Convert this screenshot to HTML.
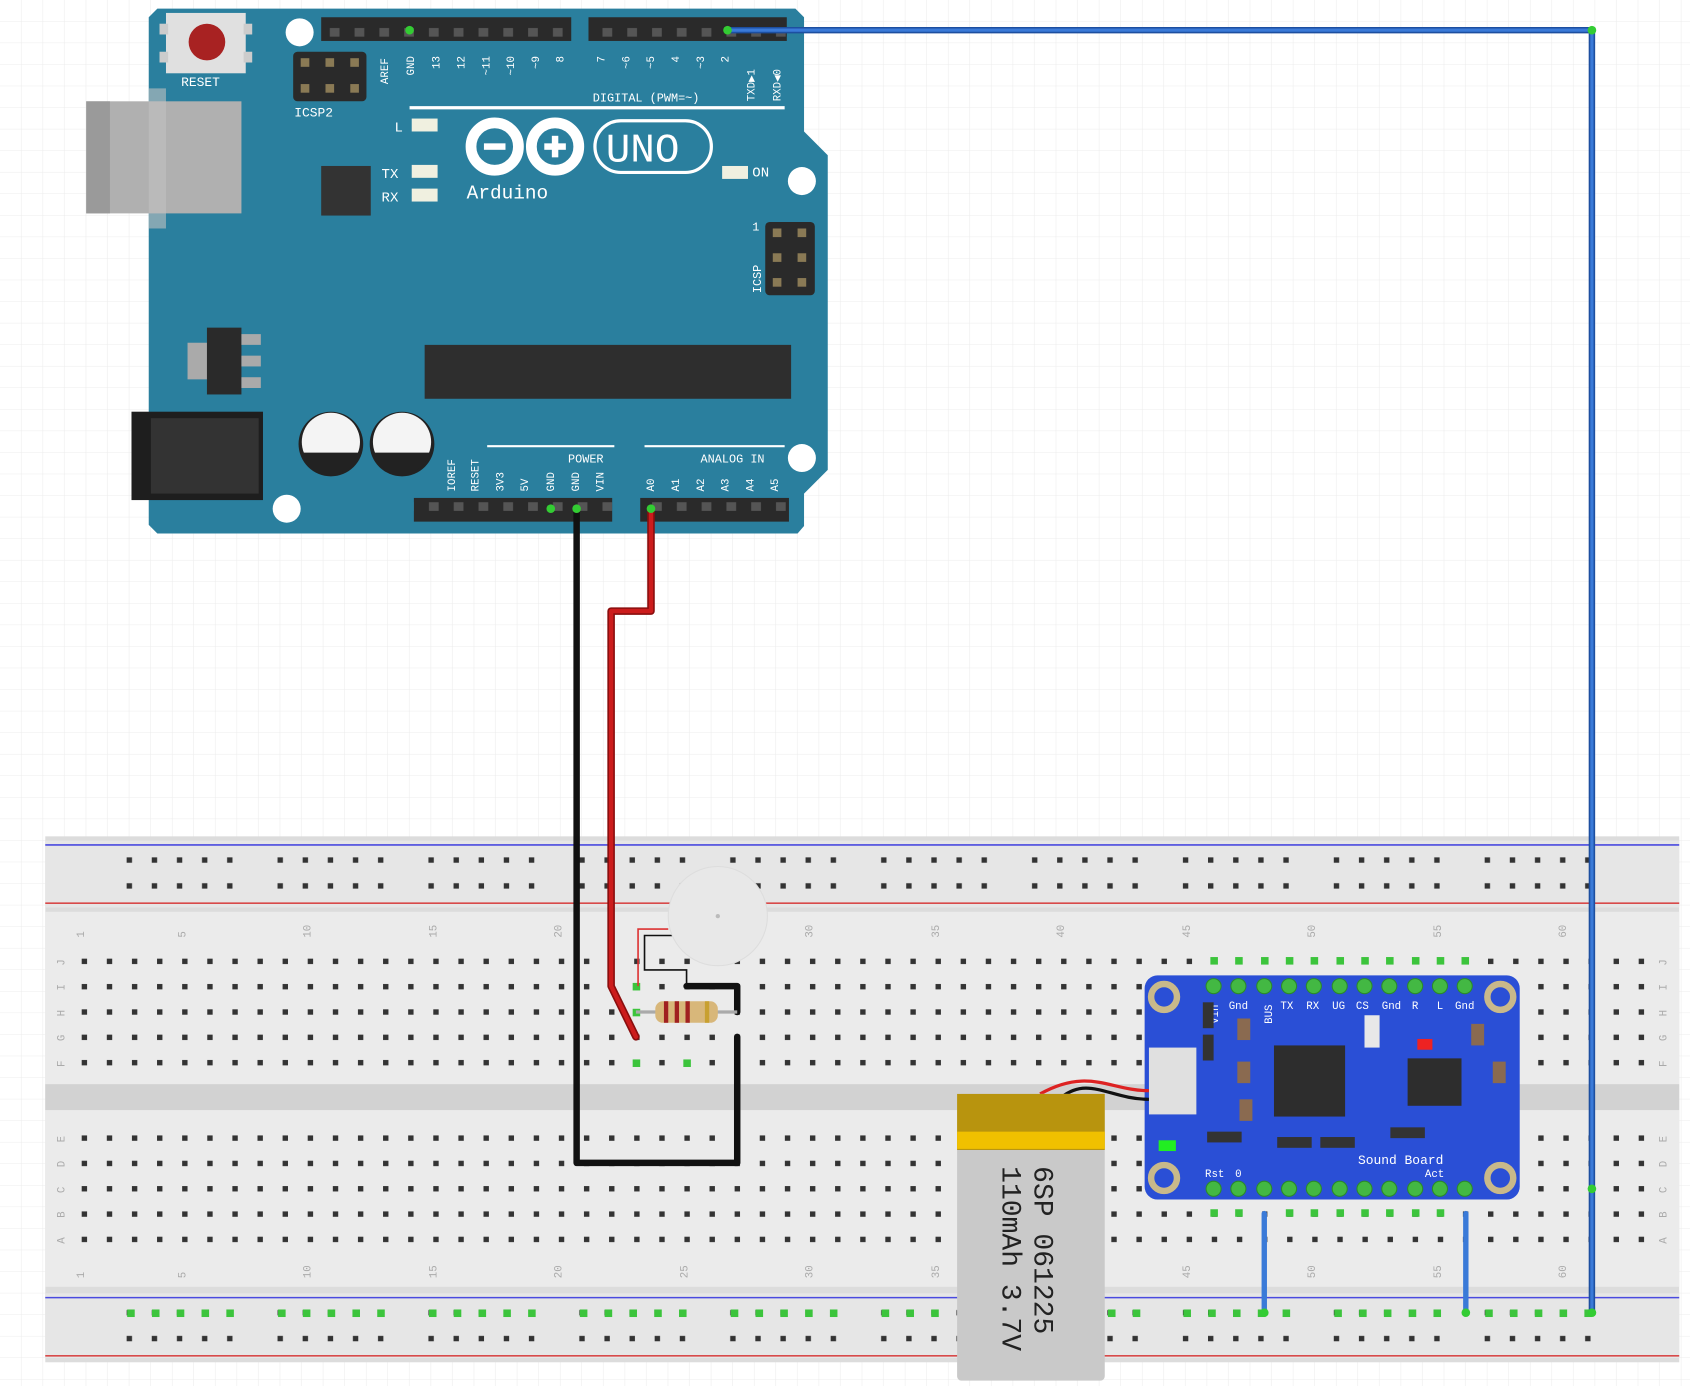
<!DOCTYPE html>
<html><head><meta charset="utf-8"><style>
html,body{margin:0;padding:0;background:#fff;}
svg{display:block;}
text{font-family:"Liberation Mono",monospace;}
</style></head><body>
<svg width="1690" height="1386" viewBox="0 0 1568 1286" preserveAspectRatio="none" xmlns="http://www.w3.org/2000/svg">
<defs>
<pattern id="grid" width="20" height="20" patternUnits="userSpaceOnUse"><path d="M20 0V20H0" fill="none" stroke="#ececec" stroke-width="1"/></pattern>
<pattern id="holesA" x="66.65" y="880.25" width="23.3" height="23.5" patternUnits="userSpaceOnUse"><rect x="9.15" y="9.25" width="5" height="5" fill="#333"/></pattern>
<pattern id="holesB" x="66.65" y="1044.25" width="23.3" height="23.5" patternUnits="userSpaceOnUse"><rect x="9.15" y="9.25" width="5" height="5" fill="#333"/></pattern>
<pattern id="rail" x="108.35" y="786" width="140" height="24" patternUnits="userSpaceOnUse">
<g fill="#333"><rect x="9.15" y="9.5" width="5" height="5"/><rect x="32.45" y="9.5" width="5" height="5"/><rect x="55.75" y="9.5" width="5" height="5"/><rect x="79.05" y="9.5" width="5" height="5"/><rect x="102.35" y="9.5" width="5" height="5"/></g></pattern>
<pattern id="rail2" x="108.35" y="1206" width="140" height="24" patternUnits="userSpaceOnUse">
<g fill="#333"><rect x="9.15" y="9.5" width="5" height="5"/><rect x="32.45" y="9.5" width="5" height="5"/><rect x="55.75" y="9.5" width="5" height="5"/><rect x="79.05" y="9.5" width="5" height="5"/><rect x="102.35" y="9.5" width="5" height="5"/></g></pattern>
<pattern id="hdr" width="23" height="20" patternUnits="userSpaceOnUse"><rect width="23" height="20" fill="#2a2a2a"/><rect x="7" y="6" width="9" height="8" fill="#555"/></pattern>
</defs>
<rect width="1568" height="1286" fill="url(#grid)"/>

<!-- Breadboard -->
<rect x="42" y="776" width="1516" height="488" fill="#dcdcdc"/>
<rect x="42" y="780" width="1516" height="62" fill="#e6e6e6"/>
<line x1="42" y1="784" x2="1558" y2="784" stroke="#4a4adf" stroke-width="1.5"/>
<line x1="42" y1="838" x2="1558" y2="838" stroke="#d84a4a" stroke-width="1.5"/>
<rect x="42" y="846" width="1516" height="160" fill="#ebebeb"/>
<rect x="42" y="1006" width="1516" height="24" fill="#d2d2d2"/>
<rect x="42" y="1030" width="1516" height="164" fill="#ebebeb"/>
<rect x="42" y="1200" width="1516" height="60" fill="#e6e6e6"/>
<line x1="42" y1="1204" x2="1558" y2="1204" stroke="#4a4adf" stroke-width="1.5"/>
<line x1="42" y1="1258" x2="1558" y2="1258" stroke="#d84a4a" stroke-width="1.5"/>
<rect x="66" y="880" width="1466" height="118" fill="url(#holesA)"/>
<rect x="66" y="1044" width="1466" height="118" fill="url(#holesB)"/>
<rect x="108" y="786" width="1390" height="48" fill="url(#rail)"/>
<rect x="108" y="1206" width="1390" height="48" fill="url(#rail2)"/>
<g font-size="10" fill="#aaa" font-family="Liberation Sans,sans-serif">
<text x="78" y="870" transform="rotate(-90 78 870)">1</text><text x="172" y="870" transform="rotate(-90 172 870)">5</text><text x="288" y="870" transform="rotate(-90 288 870)">10</text><text x="405" y="870" transform="rotate(-90 405 870)">15</text><text x="521" y="870" transform="rotate(-90 521 870)">20</text><text x="638" y="870" transform="rotate(-90 638 870)">25</text><text x="754" y="870" transform="rotate(-90 754 870)">30</text><text x="871" y="870" transform="rotate(-90 871 870)">35</text><text x="987" y="870" transform="rotate(-90 987 870)">40</text><text x="1104" y="870" transform="rotate(-90 1104 870)">45</text><text x="1220" y="870" transform="rotate(-90 1220 870)">50</text><text x="1337" y="870" transform="rotate(-90 1337 870)">55</text><text x="1453" y="870" transform="rotate(-90 1453 870)">60</text>
<text x="78" y="1186" transform="rotate(-90 78 1186)">1</text><text x="172" y="1186" transform="rotate(-90 172 1186)">5</text><text x="288" y="1186" transform="rotate(-90 288 1186)">10</text><text x="405" y="1186" transform="rotate(-90 405 1186)">15</text><text x="521" y="1186" transform="rotate(-90 521 1186)">20</text><text x="638" y="1186" transform="rotate(-90 638 1186)">25</text><text x="754" y="1186" transform="rotate(-90 754 1186)">30</text><text x="871" y="1186" transform="rotate(-90 871 1186)">35</text><text x="987" y="1186" transform="rotate(-90 987 1186)">40</text><text x="1104" y="1186" transform="rotate(-90 1104 1186)">45</text><text x="1220" y="1186" transform="rotate(-90 1220 1186)">50</text><text x="1337" y="1186" transform="rotate(-90 1337 1186)">55</text><text x="1453" y="1186" transform="rotate(-90 1453 1186)">60</text>
<text x="60" y="896" transform="rotate(-90 60 896)">J</text><text x="60" y="919" transform="rotate(-90 60 919)">I</text><text x="60" y="943" transform="rotate(-90 60 943)">H</text><text x="60" y="966" transform="rotate(-90 60 966)">G</text><text x="60" y="990" transform="rotate(-90 60 990)">F</text>
<text x="60" y="1060" transform="rotate(-90 60 1060)">E</text><text x="60" y="1083" transform="rotate(-90 60 1083)">D</text><text x="60" y="1107" transform="rotate(-90 60 1107)">C</text><text x="60" y="1130" transform="rotate(-90 60 1130)">B</text><text x="60" y="1154" transform="rotate(-90 60 1154)">A</text>
<text x="1546" y="896" transform="rotate(-90 1546 896)">J</text><text x="1546" y="919" transform="rotate(-90 1546 919)">I</text><text x="1546" y="943" transform="rotate(-90 1546 943)">H</text><text x="1546" y="966" transform="rotate(-90 1546 966)">G</text><text x="1546" y="990" transform="rotate(-90 1546 990)">F</text>
<text x="1546" y="1060" transform="rotate(-90 1546 1060)">E</text><text x="1546" y="1083" transform="rotate(-90 1546 1083)">D</text><text x="1546" y="1107" transform="rotate(-90 1546 1107)">C</text><text x="1546" y="1130" transform="rotate(-90 1546 1130)">B</text><text x="1546" y="1154" transform="rotate(-90 1546 1154)">A</text>
</g>
<!-- green highlighted holes -->
<g fill="#3cc43c">
<rect x="118" y="1215" width="7" height="7"/><rect x="141" y="1215" width="7" height="7"/><rect x="164" y="1215" width="7" height="7"/><rect x="187" y="1215" width="7" height="7"/><rect x="210" y="1215" width="7" height="7"/>
<rect x="258" y="1215" width="7" height="7"/><rect x="281" y="1215" width="7" height="7"/><rect x="304" y="1215" width="7" height="7"/><rect x="327" y="1215" width="7" height="7"/><rect x="350" y="1215" width="7" height="7"/>
<rect x="398" y="1215" width="7" height="7"/><rect x="421" y="1215" width="7" height="7"/><rect x="444" y="1215" width="7" height="7"/><rect x="467" y="1215" width="7" height="7"/><rect x="490" y="1215" width="7" height="7"/>
<rect x="538" y="1215" width="7" height="7"/><rect x="561" y="1215" width="7" height="7"/><rect x="584" y="1215" width="7" height="7"/><rect x="607" y="1215" width="7" height="7"/><rect x="630" y="1215" width="7" height="7"/>
<rect x="678" y="1215" width="7" height="7"/><rect x="701" y="1215" width="7" height="7"/><rect x="724" y="1215" width="7" height="7"/><rect x="747" y="1215" width="7" height="7"/><rect x="770" y="1215" width="7" height="7"/>
<rect x="818" y="1215" width="7" height="7"/><rect x="841" y="1215" width="7" height="7"/><rect x="864" y="1215" width="7" height="7"/>
<rect x="1028" y="1215" width="7" height="7"/><rect x="1051" y="1215" width="7" height="7"/>
<rect x="1098" y="1215" width="7" height="7"/><rect x="1121" y="1215" width="7" height="7"/><rect x="1144" y="1215" width="7" height="7"/><rect x="1167" y="1215" width="7" height="7"/><rect x="1190" y="1215" width="7" height="7"/>
<rect x="1238" y="1215" width="7" height="7"/><rect x="1261" y="1215" width="7" height="7"/><rect x="1284" y="1215" width="7" height="7"/><rect x="1307" y="1215" width="7" height="7"/><rect x="1330" y="1215" width="7" height="7"/>
<rect x="1378" y="1215" width="7" height="7"/><rect x="1401" y="1215" width="7" height="7"/><rect x="1424" y="1215" width="7" height="7"/><rect x="1447" y="1215" width="7" height="7"/><rect x="1470" y="1215" width="7" height="7"/>
<rect x="1123" y="888" width="7" height="7"/><rect x="1146" y="888" width="7" height="7"/><rect x="1170" y="888" width="7" height="7"/><rect x="1193" y="888" width="7" height="7"/><rect x="1216" y="888" width="7" height="7"/><rect x="1240" y="888" width="7" height="7"/><rect x="1263" y="888" width="7" height="7"/><rect x="1286" y="888" width="7" height="7"/><rect x="1310" y="888" width="7" height="7"/><rect x="1333" y="888" width="7" height="7"/><rect x="1356" y="888" width="7" height="7"/>
<rect x="1123" y="1122" width="7" height="7"/><rect x="1146" y="1122" width="7" height="7"/><rect x="1193" y="1122" width="7" height="7"/><rect x="1216" y="1122" width="7" height="7"/><rect x="1240" y="1122" width="7" height="7"/><rect x="1263" y="1122" width="7" height="7"/><rect x="1286" y="1122" width="7" height="7"/><rect x="1310" y="1122" width="7" height="7"/><rect x="1333" y="1122" width="7" height="7"/>
<rect x="587" y="983" width="7" height="7"/><rect x="634" y="983" width="7" height="7"/><rect x="587" y="912" width="7" height="7"/><rect x="587" y="936" width="7" height="7"/><rect x="634" y="936" width="7" height="7"/>
</g>

<!-- Arduino -->
<path d="M146 8 H738 L746 16 V122 L768 144 V436 L746 458 V488 L740 495 H146 L138 487 V16 Z" fill="#2a7f9e"/>
<rect x="80" y="94" width="144" height="104" fill="#b0b0b0"/><rect x="80" y="94" width="22" height="104" fill="#9a9a9a"/><rect x="138" y="82" width="16" height="130" fill="#c2c2c2" opacity="0.6"/>
<rect x="154" y="12" width="74" height="56" fill="#e0e0e0"/><rect x="148" y="22" width="8" height="10" fill="#ccc"/><rect x="148" y="48" width="8" height="10" fill="#ccc"/><rect x="226" y="22" width="8" height="10" fill="#ccc"/><rect x="226" y="48" width="8" height="10" fill="#ccc"/>
<circle cx="192" cy="39" r="17" fill="#a82222"/>
<text x="168" y="80" font-size="12" fill="#fff">RESET</text>
<circle cx="278" cy="30" r="13" fill="#fff"/><circle cx="744" cy="168" r="13" fill="#fff"/><circle cx="744" cy="425" r="13" fill="#fff"/><circle cx="266" cy="472" r="13" fill="#fff"/>
<rect x="272" y="48" width="68" height="46" rx="4" fill="#2a2a2a"/>
<g fill="#8a7a55"><rect x="279" y="54" width="8" height="8"/><rect x="302" y="54" width="8" height="8"/><rect x="325" y="54" width="8" height="8"/><rect x="279" y="78" width="8" height="8"/><rect x="302" y="78" width="8" height="8"/><rect x="325" y="78" width="8" height="8"/></g>
<text x="273" y="108" font-size="12" fill="#fff">ICSP2</text>
<rect x="298" y="16" width="232" height="22" fill="url(#hdr)"/>
<rect x="546" y="16" width="184" height="22" fill="url(#hdr)"/>
<g font-size="10" fill="#fff">
<text transform="translate(360,78) rotate(-90)">AREF</text><text transform="translate(384,70) rotate(-90)">GND</text><text transform="translate(408,64) rotate(-90)">13</text><text transform="translate(431,64) rotate(-90)">12</text><text transform="translate(454,70) rotate(-90)">~11</text><text transform="translate(477,70) rotate(-90)">~10</text><text transform="translate(500,64) rotate(-90)">~9</text><text transform="translate(523,58) rotate(-90)">8</text>
<text transform="translate(561,58) rotate(-90)">7</text><text transform="translate(584,64) rotate(-90)">~6</text><text transform="translate(607,64) rotate(-90)">~5</text><text transform="translate(630,58) rotate(-90)">4</text><text transform="translate(653,64) rotate(-90)">~3</text><text transform="translate(676,58) rotate(-90)">2</text><text transform="translate(700,94) rotate(-90)">TXD▶1</text><text transform="translate(724,94) rotate(-90)">RXD◀0</text>
</g>
<text x="550" y="94" font-size="11" fill="#fff">DIGITAL (PWM=~)</text>
<line x1="380" y1="100" x2="728" y2="100" stroke="#fff" stroke-width="3"/>
<text x="366" y="122" font-size="13" fill="#fff">L</text><rect x="382" y="110" width="24" height="12" fill="#f0f0e0"/>
<text x="354" y="165" font-size="13" fill="#fff">TX</text><rect x="382" y="153" width="24" height="12" fill="#f0f0e0"/>
<text x="354" y="187" font-size="13" fill="#fff">RX</text><rect x="382" y="175" width="24" height="12" fill="#f0f0e0"/>
<rect x="298" y="154" width="46" height="46" fill="#333"/>
<g fill="none" stroke="#fff" stroke-width="10"><circle cx="459" cy="136" r="22"/><circle cx="515" cy="136" r="22"/></g>
<rect x="449" y="133" width="20" height="6" fill="#fff"/><rect x="505" y="133" width="20" height="6" fill="#fff"/><rect x="512" y="126" width="6" height="20" fill="#fff"/>
<rect x="552" y="112" width="108" height="48" rx="24" fill="none" stroke="#fff" stroke-width="3"/>
<text x="562" y="150" font-size="38" fill="#fff" font-family="Liberation Sans,sans-serif">UNO</text>
<text x="433" y="184" font-size="18" fill="#fff">Arduino</text>
<rect x="670" y="154" width="24" height="12" fill="#f0f0e0"/><text x="698" y="164" font-size="13" fill="#fff">ON</text>
<text x="698" y="214" font-size="11" fill="#fff">1</text>
<rect x="710" y="206" width="46" height="68" rx="4" fill="#2a2a2a"/>
<g fill="#8a7a55"><rect x="717" y="212" width="8" height="8"/><rect x="740" y="212" width="8" height="8"/><rect x="717" y="235" width="8" height="8"/><rect x="740" y="235" width="8" height="8"/><rect x="717" y="258" width="8" height="8"/><rect x="740" y="258" width="8" height="8"/></g>
<text transform="translate(706,272) rotate(-90)" font-size="11" fill="#fff">ICSP</text>
<rect x="174" y="318" width="20" height="34" fill="#aaa"/><rect x="192" y="304" width="32" height="62" fill="#2a2a2a"/><g fill="#aaa"><rect x="224" y="310" width="18" height="10"/><rect x="224" y="330" width="18" height="10"/><rect x="224" y="350" width="18" height="10"/></g>
<rect x="394" y="320" width="340" height="50" fill="#2e2e2e"/>
<rect x="122" y="382" width="122" height="82" fill="#1e1e1e"/><rect x="140" y="388" width="100" height="70" fill="#333"/>
<circle cx="307" cy="412" r="30" fill="#222"/><circle cx="307" cy="410" r="27" fill="#f4f4f4"/><path d="M281 420 H333 A27 27 0 0 1 281 420Z" fill="#222"/>
<circle cx="373" cy="412" r="30" fill="#222"/><circle cx="373" cy="410" r="27" fill="#f4f4f4"/><path d="M347 420 H399 A27 27 0 0 1 347 420Z" fill="#222"/>
<g font-size="10" fill="#fff">
<text transform="translate(422,456) rotate(-90)">IOREF</text><text transform="translate(444,456) rotate(-90)">RESET</text><text transform="translate(467,456) rotate(-90)">3V3</text><text transform="translate(490,456) rotate(-90)">5V</text><text transform="translate(514,456) rotate(-90)">GND</text><text transform="translate(537,456) rotate(-90)">GND</text><text transform="translate(560,456) rotate(-90)">VIN</text>
<text transform="translate(607,456) rotate(-90)">A0</text><text transform="translate(630,456) rotate(-90)">A1</text><text transform="translate(653,456) rotate(-90)">A2</text><text transform="translate(676,456) rotate(-90)">A3</text><text transform="translate(699,456) rotate(-90)">A4</text><text transform="translate(722,456) rotate(-90)">A5</text>
</g>
<line x1="452" y1="414" x2="570" y2="414" stroke="#fff" stroke-width="2"/><text x="527" y="429" font-size="11" fill="#fff">POWER</text>
<line x1="598" y1="414" x2="728" y2="414" stroke="#fff" stroke-width="2"/><text x="650" y="429" font-size="11" fill="#fff">ANALOG IN</text>
<rect x="384" y="462" width="184" height="22" fill="url(#hdr)"/>
<rect x="594" y="462" width="138" height="22" fill="url(#hdr)"/>
<circle cx="380" cy="28" r="4" fill="#3c3"/><circle cx="511" cy="472" r="4" fill="#3c3"/>

<!-- Wires -->
<g fill="none" stroke-linejoin="round" stroke-linecap="round">
<polyline points="675,28 1477,28 1477,1218" stroke="#1d4fa0" stroke-width="6"/>
<polyline points="675,28 1477,28 1477,1218" stroke="#3a7ad8" stroke-width="3"/>
<polyline points="535,472 535,1079 684,1079 684,962" stroke="#111" stroke-width="6"/>
<polyline points="637,915 684,915 684,939" stroke="#111" stroke-width="6"/>
<polyline points="604,472 604,567 567,567 567,915 590,962" stroke="#8a0e0e" stroke-width="7"/>
<polyline points="604,472 604,567 567,567 567,915 590,962" stroke="#cc1c1c" stroke-width="4"/>
<line x1="1173" y1="1126" x2="1173" y2="1218" stroke="#3a7ad8" stroke-width="5"/>
<line x1="1360" y1="1126" x2="1360" y2="1218" stroke="#3a7ad8" stroke-width="5"/>
</g>
<g fill="#3c3"><circle cx="675" cy="28" r="4"/><circle cx="1477" cy="28" r="4"/><circle cx="1477" cy="1218" r="4"/><circle cx="1477" cy="1103" r="4"/><circle cx="535" cy="472" r="4"/><circle cx="604" cy="472" r="4"/><circle cx="1173" cy="1218" r="4"/><circle cx="1360" cy="1218" r="4"/></g>

<!-- buzzer -->
<polyline points="620,862 592,862 592,915" fill="none" stroke="#d33" stroke-width="1.5"/>
<polyline points="624,868 598,868 598,900 637,900 637,915" fill="none" stroke="#111" stroke-width="1.5"/>
<circle cx="666" cy="850" r="46" fill="#e8e8e8" stroke="#ddd"/><circle cx="666" cy="850" r="2" fill="#bbb"/>
<!-- resistor -->
<line x1="590" y1="939" x2="684" y2="939" stroke="#aaa" stroke-width="3"/>
<rect x="608" y="929" width="58" height="20" rx="7" fill="#d8b77a"/>
<g fill="#a02020"><rect x="616" y="929" width="4" height="20"/><rect x="626" y="929" width="4" height="20"/><rect x="636" y="929" width="4" height="20"/></g><rect x="654" y="929" width="4" height="20" fill="#c8a030"/>

<!-- sound board -->
<rect x="1062" y="905" width="348" height="208" rx="12" fill="#2a4fd6"/>
<g fill="none" stroke="#c9b98a" stroke-width="6"><circle cx="1080" cy="925" r="12"/><circle cx="1392" cy="925" r="12"/><circle cx="1080" cy="1093" r="12"/><circle cx="1392" cy="1093" r="12"/></g>
<g fill="#43b843" stroke="#2a8a2a" stroke-width="1">
<circle cx="1126" cy="915" r="7"/><circle cx="1149" cy="915" r="7"/><circle cx="1173" cy="915" r="7"/><circle cx="1196" cy="915" r="7"/><circle cx="1219" cy="915" r="7"/><circle cx="1243" cy="915" r="7"/><circle cx="1266" cy="915" r="7"/><circle cx="1289" cy="915" r="7"/><circle cx="1313" cy="915" r="7"/><circle cx="1336" cy="915" r="7"/><circle cx="1359" cy="915" r="7"/>
<circle cx="1126" cy="1103" r="7"/><circle cx="1149" cy="1103" r="7"/><circle cx="1173" cy="1103" r="7"/><circle cx="1196" cy="1103" r="7"/><circle cx="1219" cy="1103" r="7"/><circle cx="1243" cy="1103" r="7"/><circle cx="1266" cy="1103" r="7"/><circle cx="1289" cy="1103" r="7"/><circle cx="1313" cy="1103" r="7"/><circle cx="1336" cy="1103" r="7"/><circle cx="1359" cy="1103" r="7"/>
</g>
<g font-size="10" fill="#fff">
<text transform="translate(1130,950) rotate(-90)">Vin</text><text transform="translate(1180,950) rotate(-90)">BUS</text>
<text x="1140" y="936">Gnd</text><text x="1188" y="936">TX</text><text x="1212" y="936">RX</text><text x="1236" y="936">UG</text><text x="1258" y="936">CS</text><text x="1282" y="936">Gnd</text><text x="1310" y="936">R</text><text x="1333" y="936">L</text><text x="1350" y="936">Gnd</text>
<text x="1118" y="1092">Rst</text><text x="1146" y="1092">0</text><text x="1260" y="1080" font-size="12">Sound Board</text><text x="1322" y="1092">Act</text>
</g>
<rect x="1182" y="970" width="66" height="66" fill="#2d2d2d"/>
<rect x="1306" y="982" width="50" height="44" fill="#2d2d2d"/>
<rect x="1315" y="964" width="14" height="10" fill="#e22"/>
<rect x="1266" y="942" width="14" height="30" fill="#e8e8e8"/>
<rect x="1066" y="972" width="44" height="62" fill="#e0e0e0"/>
<rect x="1075" y="1058" width="16" height="10" fill="#2e2"/>
<g fill="#333"><rect x="1185" y="1055" width="32" height="10"/><rect x="1225" y="1055" width="32" height="10"/><rect x="1290" y="1046" width="32" height="10"/><rect x="1120" y="1050" width="32" height="10"/><rect x="1116" y="930" width="10" height="24"/><rect x="1116" y="960" width="10" height="24"/></g>
<g fill="#8a6a50"><rect x="1148" y="945" width="12" height="20"/><rect x="1148" y="985" width="12" height="20"/><rect x="1150" y="1020" width="12" height="20"/><rect x="1365" y="950" width="12" height="20"/><rect x="1385" y="985" width="12" height="20"/></g>
<!-- battery wires -->
<path d="M1066 1012 C1030 1012 1010 990 965 1015" fill="none" stroke="#d22" stroke-width="3"/>
<path d="M1066 1020 C1030 1020 1010 998 985 1018" fill="none" stroke="#111" stroke-width="3"/>
<!-- battery -->
<rect x="888" y="1015" width="137" height="266" rx="4" fill="#c9c9c9"/>
<rect x="888" y="1015" width="137" height="52" fill="#b8940e"/><rect x="888" y="1050" width="137" height="16" fill="#f0c000"/>
<text transform="translate(960,1082) rotate(90)" font-size="26" fill="#222" font-family="Liberation Sans,sans-serif">6SP 061225</text>
<text transform="translate(930,1082) rotate(90)" font-size="26" fill="#222" font-family="Liberation Sans,sans-serif">110mAh 3.7V</text>
</svg>
</body></html>
